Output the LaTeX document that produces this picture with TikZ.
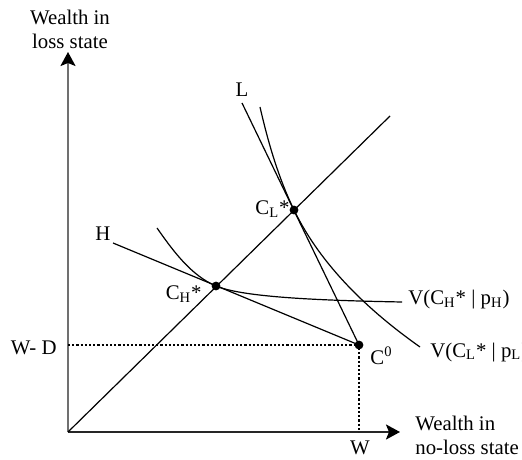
\documentclass[tikz,border=0pt]{standalone}
\usepackage{fontspec}
\setmainfont{Liberation Serif}
\usetikzlibrary{arrows.meta}
\definecolor{axisgray}{HTML}{707070}
\definecolor{axisdark}{HTML}{262626}

\begin{document}
\begin{tikzpicture}[x=0.5pt,y=0.5pt,
        axis/.style={line width=1.1pt,
                     -{Stealth[length=7pt,width=7.5pt,inset=1.5pt,black]}},
        curve/.style={draw,line width=0.6pt},
        guide/.style={draw,line width=1.1pt,dash pattern=on 1.1pt off 1pt},
        pt/.style={circle,fill,inner sep=0pt,minimum size=4.4pt},
        lbl/.style={inner sep=0pt,font=\fontsize{10.4}{12}\selectfont}]
      \useasboundingbox (-68,-27) rectangle (454,432);
      %% ── Corner points and ends ───────────────────────────
      \coordinate (o)    at (0,0);
      \coordinate (ytip) at (0,380);
      \coordinate (xtip) at (332,0);
      \coordinate (diag) at (322,316);
      \coordinate (wd)   at (0,87);
      \coordinate (w)    at (291,0);
      \coordinate (lend) at (174,329);
      \coordinate (hend) at (45,189);
      %% ── Contracts (dots) ─────────────────────────────────
      \node[pt](cl) at(226,222){};
      \node[pt](ch) at(148,146){};
      \node[pt](c0) at(291,87){};
      %% ── Axes ─────────────────────────────────────────────
      \draw[axis,draw=axisgray] (o)--(ytip);
      \draw[axis,draw=axisdark] (o)--(xtip);
      \node[lbl,align=center](ylab) at(2,403){Wealth in\\loss state};
      \node[lbl,align=left,anchor=west](xlab) at(347,-3){Wealth in\\no-loss state};
      %% ── Certainty line and endowment ─────────────────────
      \draw[curve] (o)--(diag);
      \draw[guide] (wd)--(c0.center)--(w);
      \node[lbl,anchor=base east](wdlab) at(-11,77){W- D};
      \node[lbl,anchor=base](wlab) at(292,-22){W};
      \node[lbl,anchor=base west](c0lab) at(302,68){C\textsuperscript{0}};
      %% ── Fair-odds lines ──────────────────────────────────
      \draw[curve] (lend)--(c0.center);
      \draw[curve] (hend)--(c0.center);
      \node[lbl,anchor=base](llab) at(174,335){L};
      \node[lbl,anchor=base](hlab) at(35,191){H};
      \node[lbl,anchor=base east](cllab) at(222,217){C\textsubscript{L}*};
      \node[lbl,anchor=base east](chlab) at(134,132){C\textsubscript{H}*};
      %% ── Indifference curves ──────────────────────────────
      \coordinate (lcs) at (192,325);
      \coordinate (lce) at (352,85);
      \coordinate (hcs) at (89,204);
      \coordinate (hce) at (334,130);
      \draw[curve] (lcs) .. controls (200,290) and (210.3,254.4) .. (cl.center)
            .. controls (253,166.2) and (301,121) .. (lce);
      \draw[curve] (hcs) .. controls (104.5,181.9) and (123,156.4) .. (ch.center)
            .. controls (175.7,134.5) and (254,131.5) .. (hce);
      \node[lbl,anchor=base west](vhlab) at(340,127){V(C\textsubscript{H}* | p\textsubscript{H})};
      \node[lbl,anchor=base west](vllab) at(362,75){V(C\textsubscript{L}* | p\textsubscript{L})};
    \end{tikzpicture}
\end{document}
